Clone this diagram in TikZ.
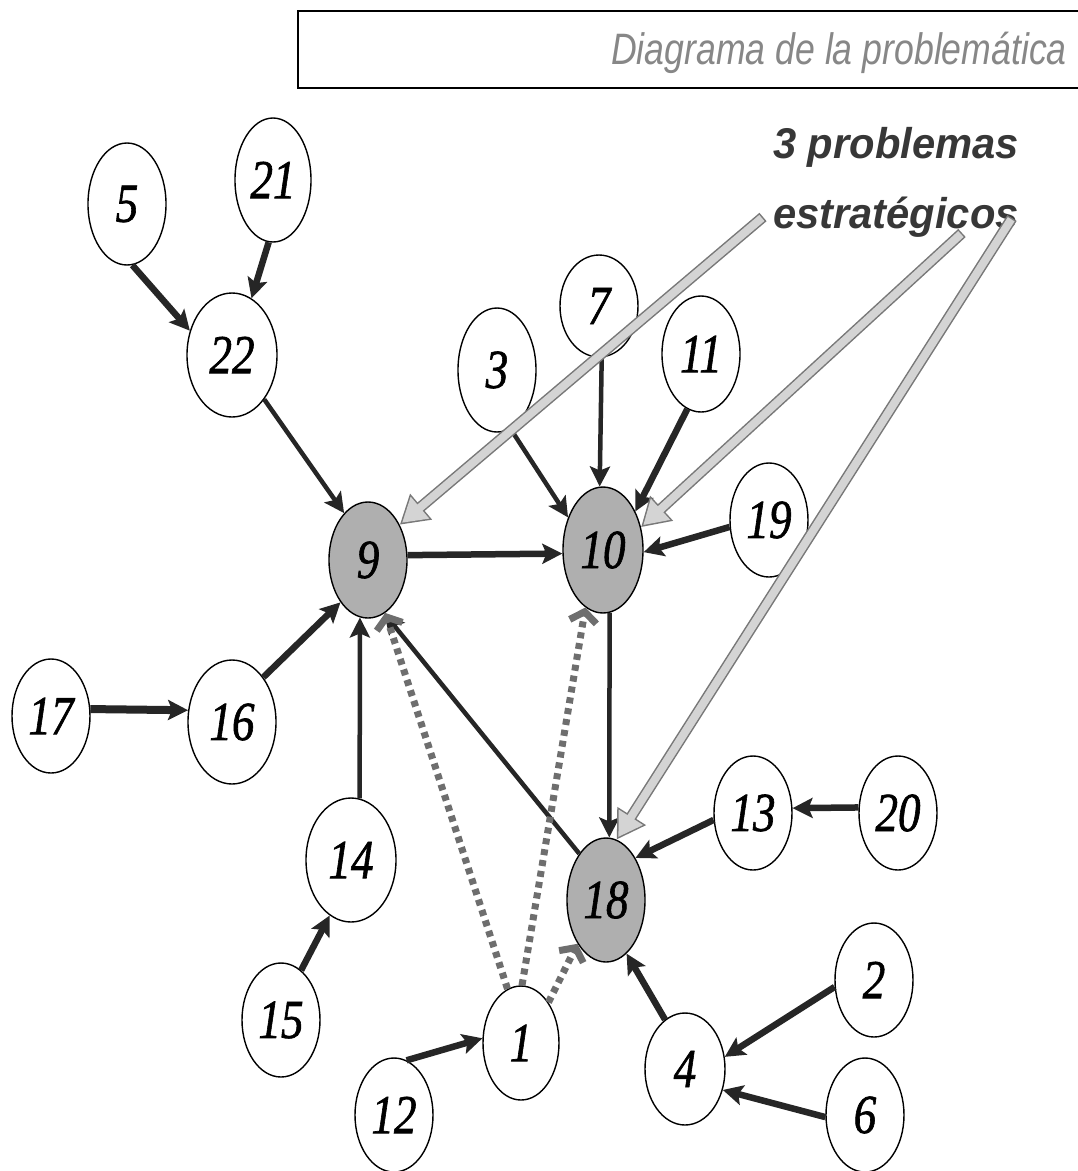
\documentclass[tikz,border=0pt]{standalone}
\usepackage{fontspec}
\setmainfont{Liberation Serif}
\newfontfamily\headfont{Liberation Sans}
\newfontfamily\numfont[FakeBold=1.3]{Liberation Serif}
\usetikzlibrary{arrows.meta,shapes.geometric}

\definecolor{ink}{RGB}{38,38,38}
\definecolor{coreg}{RGB}{175,175,175}
\definecolor{dotc}{RGB}{110,110,110}
\definecolor{callrim}{RGB}{120,120,120}
\definecolor{callfill}{RGB}{212,212,212}
\definecolor{titlec}{RGB}{135,135,135}
\definecolor{labelc}{RGB}{55,55,55}

% narrow digits for the problem numbers
\newcommand\probnum[1]{\scalebox{0.82}[1]{#1}}

\begin{document}
\begin{tikzpicture}[x=1pt,y=-1pt,
  prob/.style={ellipse, draw=black, line width=1.4pt, fill=white,
    minimum width=78pt, minimum height=116pt, inner sep=0pt,
    font=\numfont\fontsize{55}{55}\selectfont\itshape},
  core/.style={prob, fill=coreg},
  link/.style={draw=ink, line width=6.5pt,
    -{Stealth[length=20pt,width=20pt,inset=4pt]}},
  linkthin/.style={link, line width=4.5pt},
  cause/.style={draw=dotc, line width=7pt, dash pattern=on 6pt off 5pt,
    -{Straight Barb[length=10pt,width=27pt]}},
  callrimline/.style={draw=callrim, line width=11pt,
    -{Triangle[length=28pt,width=32pt]}},
  callfillline/.style={draw=callfill, line width=8pt,
    shorten >=3pt, shorten <=1.5pt,
    -{Triangle[length=23.5pt,width=27pt]}},
  heading/.style={font=\headfont\itshape\fontsize{44}{44}\selectfont, text=titlec},
  tag/.style={font=\headfont\bfseries\itshape\fontsize{43}{43}\selectfont, text=labelc}
]
\useasboundingbox (0,0) rectangle (1078,1171);

% title frame, open on the right
\draw[line width=1.2pt] (1078,11) -- (298,11) -- (298,88);
\draw[line width=2pt] (297,88) -- (1078,88);
\node[heading, anchor=base east, inner sep=0pt] (title) at (1067,64)
  {\scalebox{0.81}[1]{Diagrama de la problemática}};

% label of the strategic problems
\node[tag, anchor=base] (tag1) at (896,158) {\scalebox{0.97}[1]{3 problemas}};
\node[tag, anchor=base] (tag2) at (896,228) {\scalebox{0.97}[1]{estratégicos}};

% problems
\node[prob, minimum height=122pt] (n5) at (127,204) {\probnum{5}};
\node[prob, minimum width=76pt, minimum height=124pt] (n21) at (273,180) {\probnum{21}};
\node[prob, minimum width=90pt, minimum height=124pt] (n22) at (232,355) {\probnum{22}};
\node[prob, minimum height=124pt] (n3) at (497,370) {\probnum{3}};
\node[prob, minimum height=102pt] (n7) at (599,306) {\probnum{7}};
\node[prob] (n11) at (701,354) {\probnum{11}};
\node[core] (n9) at (368,560) {\probnum{9}};
\node[core, minimum width=80pt, minimum height=126pt] (n10) at (603,550) {\probnum{10}};
\node[prob, minimum height=114pt] (n19) at (769,520) {\probnum{19}};
\node[prob, minimum height=114pt] (n17) at (51,716) {\probnum{17}};
\node[prob, minimum width=88pt, minimum height=124pt] (n16) at (232,722) {\probnum{16}};
\node[prob, minimum width=90pt, minimum height=124pt] (n14) at (351,860) {\probnum{14}};
\node[prob, minimum height=114pt] (n15) at (281,1020) {\probnum{15}};
\node[prob, minimum height=114pt] (n12) at (394,1115) {\probnum{12}};
\node[prob, minimum width=76pt, minimum height=114pt] (n1) at (521,1043) {\probnum{1}};
\node[core, minimum height=124pt] (n18) at (606,900) {\probnum{18}};
\node[prob, minimum height=114pt] (n13) at (753,813) {\probnum{13}};
\node[prob, minimum height=114pt] (n20) at (898,813) {\probnum{20}};
\node[prob, minimum height=114pt] (n2) at (874,980) {\probnum{2}};
\node[prob, minimum width=80pt, minimum height=112pt] (n4) at (685,1069) {\probnum{4}};
\node[prob, minimum height=114pt] (n6) at (865,1115) {\probnum{6}};

% causal links
\draw[link] (n5.-85) -- (n22.150);
\draw[link] (n21.-94) -- (n22.71);
\draw[linkthin] (n22.-54) -- (n9.117);
\draw[linkthin] (n3.-77) -- (n10.137);
\draw[linkthin] (n7.-87) -- (n10.93);
\draw[link] (n11.-104) -- (n10.50);
\draw[link] (n19.-170) -- (n10.-3);
\draw[link] (n9.7) -- (n10.-175);
\draw[linkthin] (n10.-84) -- (n18.87);
\draw[link] (n16.55) -- (n9.-123);
\draw[link, line width=8pt] (n17.10) -- (n16.165);
\draw[linkthin] (n14.82) -- (n9.-98);
\draw[link] (n15.68) -- (n14.-111);
\draw[linkthin] (n18.120) -- (n9.-73);
\draw[link] (n13.-170) -- (n18.55);
\draw[link] (n20.172) -- (n13.7);
\draw[link] (n2.-170) -- (n4.17);
\draw[link] (n6.-177) -- (n4.-29);
\draw[link] (n4.112) -- (n18.-69);
\draw[link] (n12.77) -- (n1.173);

% indirect influences of problem 1
\draw[cause] (n1.104) -- (n9.-72);
\draw[cause] (n1.89) -- (n10.-107);
\draw[cause] (n1.56) -- (n18.-123);

% pointers from the label to the strategic problems
\coordinate (cA) at (763,217);
\coordinate (cB) at (962,233);
\coordinate (cC) at (1012,218);
\draw[callrimline] (cA) -- (n9.48);
\draw[callfillline] (cA) -- (n9.48);
\draw[callrimline] (cB) -- (n10.31);
\draw[callfillline] (cB) -- (n10.31);
\draw[callrimline] (cC) -- (n18.80);
\draw[callfillline] (cC) -- (n18.80);
\end{tikzpicture}
\end{document}
